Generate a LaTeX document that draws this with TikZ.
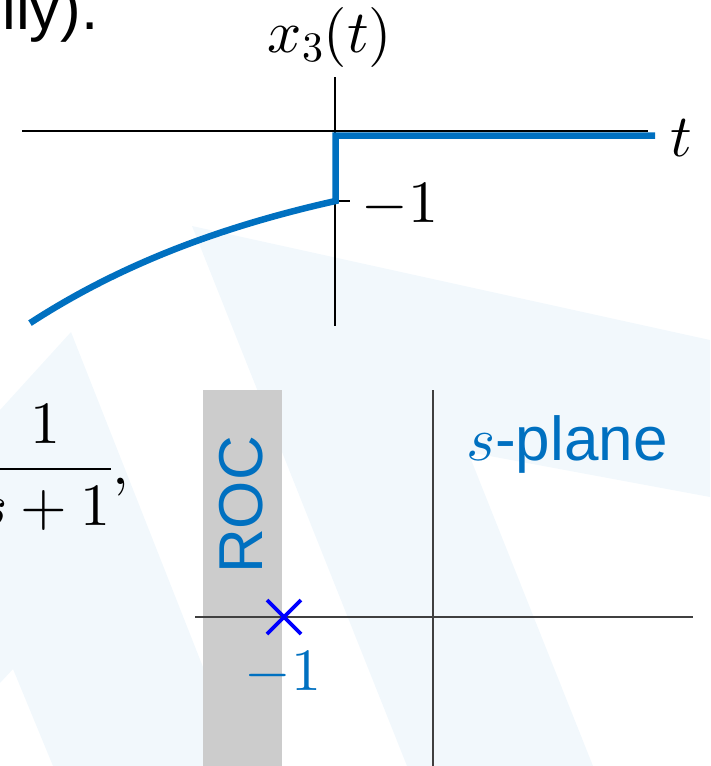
\documentclass[tikz,border=0pt]{standalone}
\usepackage{fontspec}
\DeclareFontShape{OT1}{cmr}{m}{n}{<-> cmr10}{}
\DeclareFontShape{OML}{cmm}{m}{it}{<-> cmmi10}{}
\DeclareFontShape{OMS}{cmsy}{m}{n}{<-> cmsy10}{}
\DeclareFontShape{OMX}{cmex}{m}{n}{<-> cmex10}{}
\newfontfamily\arialfont{Liberation Sans}
\definecolor{wm}{RGB}{242,248,252}
\definecolor{sigblue}{RGB}{0,112,192}
\definecolor{rocgrey}{RGB}{204,204,204}
\definecolor{axgrey}{RGB}{64,64,64}
\definecolor{poleblue}{RGB}{0,0,255}
\tikzset{
  mathlbl/.style={inner sep=0pt, font=\fontsize{60}{70}\selectfont},
  sanslbl/.style={inner sep=0pt, font=\arialfont\fontsize{62}{70}\selectfont},
  thinaxis/.style={black, line width=1.1pt},
  saxis/.style={axgrey, line width=1.6pt},
  signal/.style={sigblue, line width=6.5pt},
  polemark/.style={poleblue, line width=3.8pt}
}
\begin{document}
\begin{tikzpicture}[x=1pt,y=-1pt]
\useasboundingbox (0,0) rectangle (710,766);
% watermark shapes
\fill[wm] (192,226) -- (710,340) -- (710,497) -- (468,452) -- (593,766) -- (407,766) -- cycle;
\fill[wm] (71,332) -- (242,766) -- (53,766) -- (13,669) -- (0,683) -- (0,410) -- cycle;
% top text fragment
\node[sanslbl, anchor=base east] (frag) at (99,29) {ily).};
% time-domain axes
\coordinate (hl) at (22,131);
\coordinate (hr) at (648,131);
\coordinate (vt) at (335,77);
\coordinate (vb) at (335,326);
\draw[thinaxis] (hl) -- (hr);
\draw[thinaxis] (vt) -- (vb);
\coordinate (tk0) at (335,201);
\coordinate (tk1) at (350,201);
\draw[thinaxis] (tk0) -- (tk1);
% signal
\coordinate (sr) at (655,135.5);
\coordinate (sc) at (335.5,135.5);
\coordinate (sd) at (335.5,201);
\draw[signal] (sr) -- (sc) -- (sd) -- plot[domain=335.5:30, samples=80] (\x,{201+64*(exp(0.0035*(335.5-\x))-1)});
% labels
\node[mathlbl, anchor=base] (xlab) at (330,52) {$x_3(t)$};
\node[mathlbl, anchor=base] (tlab) at (681,156) {$t$};
\node[mathlbl, anchor=base] (mone) at (400,222) {$-1$};
\node[mathlbl, anchor=base east] (frac) at (129,484) {$\displaystyle\frac{1}{s+1},$};
% s-plane
\fill[rocgrey] (203,390) rectangle (282,766);
\coordinate (sxl) at (195,617);
\coordinate (sxr) at (693,617);
\coordinate (syt) at (433,390);
\coordinate (syb) at (433,766);
\draw[saxis] (sxl) -- (sxr);
\draw[saxis] (syt) -- (syb);
\node[sanslbl, text=sigblue, rotate=90, anchor=center] (roc) at (241,505) {ROC};
\coordinate (pole) at (284,617);
\draw[polemark] ([shift={(-17,-17)}]pole) -- ([shift={(17,17)}]pole);
\draw[polemark] ([shift={(-17,17)}]pole) -- ([shift={(17,-17)}]pole);
\node[mathlbl, text=sigblue, anchor=base] (pmone) at (283,690) {$-1$};
\node[sanslbl, text=sigblue, anchor=base west] (splane) at (466,460) {$s$-plane};
\end{tikzpicture}
\end{document}
